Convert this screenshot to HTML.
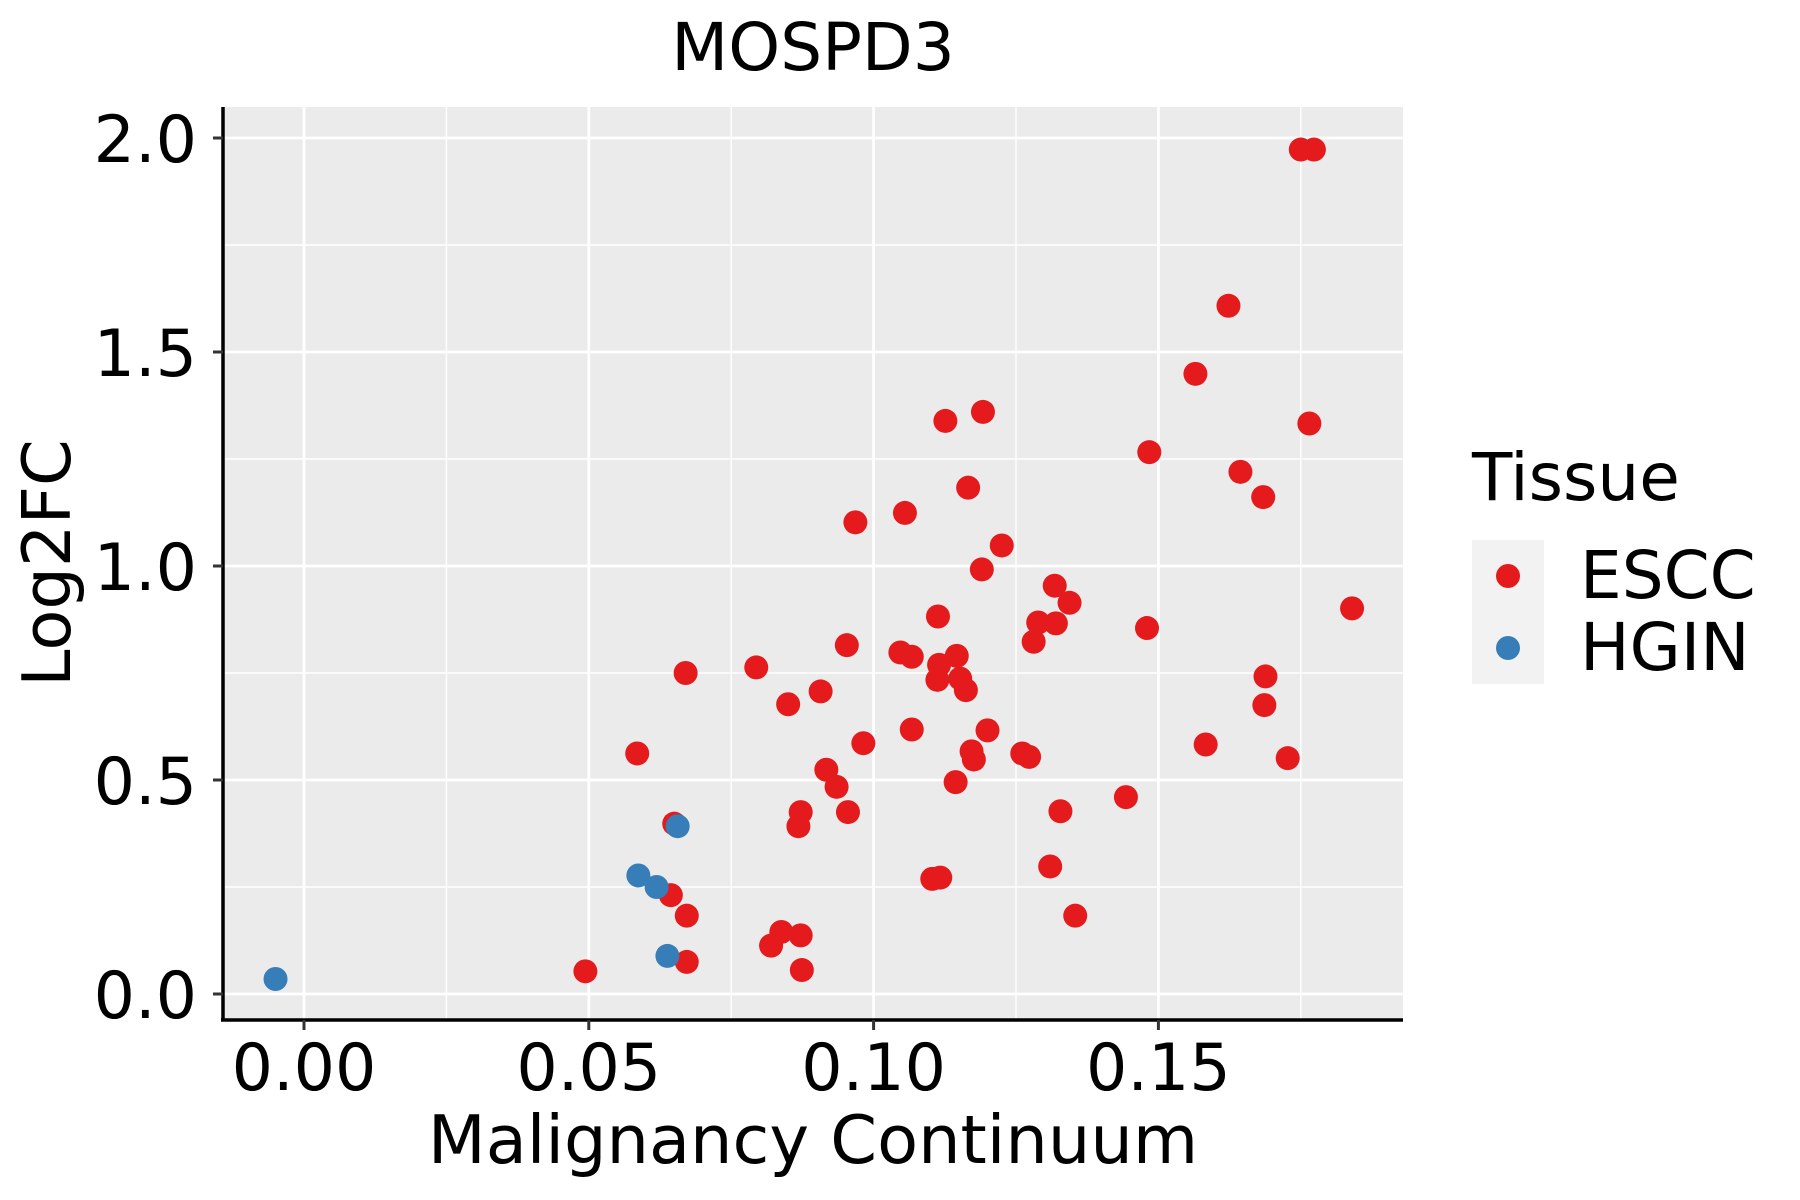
<!DOCTYPE html>
<html><head><meta charset="utf-8"><style>
html,body{margin:0;padding:0;background:#fff;}
svg{display:block;font-family:"DejaVu Sans","Liberation Sans",sans-serif;}
</style></head><body>
<svg id="chart" width="1800" height="1200" viewBox="0 0 1800 1200">
<text x="813" y="70" font-size="66" text-anchor="middle">MOSPD3</text>
<rect x="223" y="107" width="1180" height="913" fill="#EBEBEB"/>
<g id="grid"></g>
<g id="points"></g>
<line x1="223" y1="107" x2="223" y2="1020" stroke="#000" stroke-width="3.5"/>
<line x1="221" y1="1020" x2="1403" y2="1020" stroke="#000" stroke-width="3.5"/>
<g id="ticks"></g>
<text x="813" y="1163" font-size="67" text-anchor="middle">Malignancy Continuum</text>
<text transform="translate(70,563) rotate(-90)" font-size="67" text-anchor="middle">Log2FC</text>
<text x="1472" y="500" font-size="66">Tissue</text>
<rect x="1472" y="540" width="72" height="144" fill="#F2F2F2"/>
<circle cx="1508" cy="576" r="12" fill="#E41A1C"/>
<circle cx="1508" cy="648" r="12" fill="#377EB8"/>
<text x="1580" y="598" font-size="66">ESCC</text>
<text x="1580" y="670" font-size="66">HGIN</text>
</svg>
<script>
const xTicks = [0, 0.05, 0.10, 0.15];
const xTickLabels = ["0.00", "0.05", "0.10", "0.15"];
const yTicks = [0, 0.5, 1.0, 1.5, 2.0];
const yTickLabels = ["0.0", "0.5", "1.0", "1.5", "2.0"];
const esccX = [0.1750,0.1773,0.1623,0.1565,0.1192,0.1126,0.1765,0.1484,0.1644,0.1166,0.1684,0.1055,0.0968,0.1225,0.1190,0.1318,0.1840,0.1344,0.1113,0.1289,0.1320,0.1480,0.1281,0.0953,0.1047,0.1067,0.1146,0.1115,0.0794,0.0670,0.1688,0.1152,0.1112,0.1162,0.0907,0.0850,0.1686,0.1200,0.1067,0.0982,0.1583,0.0585,0.1261,0.1273,0.1172,0.1176,0.1727,0.0917,0.1144,0.0935,0.1443,0.0872,0.1328,0.0955,0.0650,0.0868,0.1310,0.1103,0.1117,0.0644,0.0672,0.1354,0.0838,0.0872,0.0820,0.0672,0.0874,0.0494];
const esccY = [1.973,1.973,1.608,1.449,1.360,1.339,1.333,1.266,1.220,1.183,1.161,1.124,1.102,1.048,0.992,0.954,0.901,0.914,0.882,0.868,0.866,0.855,0.823,0.815,0.798,0.788,0.790,0.769,0.763,0.750,0.742,0.737,0.734,0.710,0.707,0.677,0.675,0.616,0.618,0.586,0.583,0.562,0.562,0.554,0.567,0.548,0.551,0.524,0.495,0.484,0.460,0.425,0.427,0.425,0.398,0.392,0.298,0.269,0.272,0.231,0.183,0.183,0.145,0.137,0.113,0.075,0.056,0.053];
const hginX = [0.0656,0.0587,0.0619,0.0638,-0.0050];
const hginY = [0.392,0.277,0.250,0.089,0.035];

const NS = "http://www.w3.org/2000/svg";
function sx(v){ return 304 + v * 5696; }
function sy(v){ return 994 - v * 428; }
function mk(tag, attrs, parent){
  const e = document.createElementNS(NS, tag);
  for (const k in attrs) e.setAttribute(k, attrs[k]);
  parent.appendChild(e);
  return e;
}
const grid = document.getElementById('grid');
const pts = document.getElementById('points');
const ticks = document.getElementById('ticks');

for (let i = 0; i < xTicks.length; i++) {
  const mx = sx(xTicks[i] - 0.025);
  if (mx > 223) {
    const l = mk('line', {x1:mx, x2:mx, y1:107, y2:1020, stroke:'#fff', 'stroke-width':1.4}, grid);
    
    
  }
}
const lastMinor = sx(xTicks[xTicks.length-1] + 0.025);
if (lastMinor < 1403) {
  const l = mk('line', {x1:lastMinor, x2:lastMinor, y1:107, y2:1020, stroke:'#fff', 'stroke-width':1.4}, grid);
  
  
}
for (let i = 0; i < yTicks.length - 1; i++) {
  const my = sy(yTicks[i] + 0.25);
  const l = mk('line', {x1:223, x2:1403, y1:my, y2:my, stroke:'#fff', 'stroke-width':1.4}, grid);
  
  
}
xTicks.forEach((v, i) => {
  const x = sx(v);
  const g = mk('line', {x1:x, x2:x, y1:107, y2:1020, stroke:'#fff', 'stroke-width':2.8}, grid);
  
  
  const t = mk('line', {x1:x, x2:x, y1:1020, y2:1030, stroke:'#333', 'stroke-width':3}, ticks);
  
  
  const tx = mk('text', {x:x, y:1090, 'font-size':65, 'text-anchor':'middle'}, ticks);
  tx.textContent = xTickLabels[i];
  
  
});
yTicks.forEach((v, i) => {
  const y = sy(v);
  const g = mk('line', {x1:223, x2:1403, y1:y, y2:y, stroke:'#fff', 'stroke-width':2.8}, grid);
  
  
  const t = mk('line', {x1:213, x2:223, y1:y, y2:y, stroke:'#333', 'stroke-width':3}, ticks);
  
  
  const tx = mk('text', {x:197, y:y + 24, 'font-size':65, 'text-anchor':'end'}, ticks);
  tx.textContent = yTickLabels[i];
  
  
});
esccX.forEach((v, i) => {
  const c = mk('circle', {cx:sx(v), cy:sy(esccY[i]), r:12, fill:'#E41A1C'}, pts);
  
  
});
hginX.forEach((v, i) => {
  const c = mk('circle', {cx:sx(v), cy:sy(hginY[i]), r:12, fill:'#377EB8'}, pts);
  
  
});
</script>
</body></html>
